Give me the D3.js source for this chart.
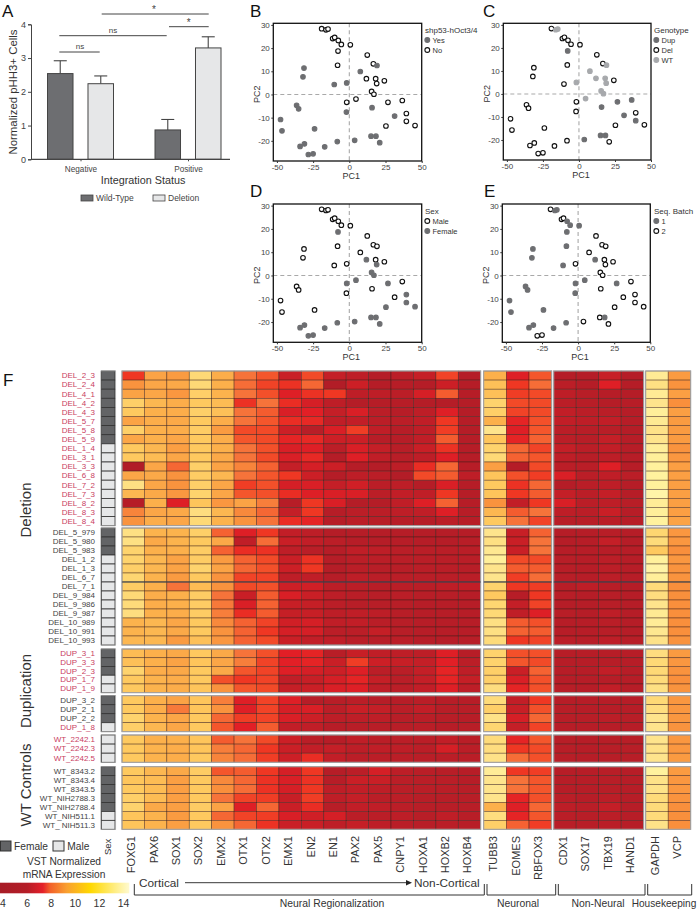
<!DOCTYPE html>
<html>
<head>
<meta charset="utf-8">
<title>Figure</title>
<script src="https://cdn.jsdelivr.net/npm/d3@7"></script>
<style>
  html, body { margin: 0; background: #fff; }
  svg { display: block; font-family: "Liberation Sans", Arial, sans-serif; }
  text { fill: #333; }
</style>
</head>
<body>
<svg id="fig" width="699" height="915"></svg>
<script>
// panel A
const integration = ["Negative", "Positive"]
const genotypesA = ["Wild-Type", "Deletion"]
const barMeans = [[2.54, 2.24], [0.87, 3.3]]
const barErrors = [[0.38, 0.23], [0.31, 0.33]]

// panels B-E, same 50 samples in every panel
const pc1 = [-19.1, -16.1, -14.7, -11.5, -10.1, -7.6, -5.5, 0.7, -7.8, -8.1, 12.4, 16.6, 19.1, 7.6, -31.3, -32, -10.4, -1.8, 11.8, 18.2, 18.9, 24.2, 15.4, 17, 4.6, -1.8, 26.7, 36.6, -2, 15.7, 39.4, 31.3, 39.4, 45.4, 25.3, -36.4, -35, -47.5, -46.5, -24, 15, 18.4, 3.7, 21, -8.3, -17, -31, -34, -28.3, -25]
const pc2 = [28.4, 27.9, 28.2, 24.1, 24.6, 23.3, 21.6, 21.4, 18.7, 12.6, 17, 13.2, 12.5, 9.9, 11.4, 7.6, 4.3, 5, 6.8, 6.8, 4.7, 5.9, 1.3, 0.1, -2, -3.4, -3.4, -2.6, -7.6, -5.7, -8.2, -9.3, -11.6, -13.4, -13.6, -4.7, -6.2, -10.8, -15.7, -14.8, -18, -18, -19.8, -20.8, -20.3, -22.6, -21.3, -22.4, -25.9, -25.6]
const shp53 = "NNNNNNNNNNNNYYYYYYNNNNNNNNNNYYNYNNNYYYYYYYYYYYYYYY".split("")
const genotype = "DWWDDDDDUDDDWWDDDWWWWDWWWDUUDUDUUDDDDDDDUUUDDDDDDD".split("")
const sex = "MMMMMMMMFMMMMMMMMMFMFMFFFFFMMMFMFFFMMMMMFFFFFFFFFF".split("")
const batch = "21122111112222111212222211121222222111112122111122".split("")

// panel F
const genesNeural = ["FOXG1", "PAX6", "SOX1", "SOX2", "EMX2", "OTX1", "OTX2", "EMX1", "EN2", "EN1", "PAX2", "PAX5", "CNPY1", "HOXA1", "HOXB2", "HOXB4"]
const genesNeuronal = ["TUBB3", "EOMES", "RBFOX3"]
const genesNonNeural = ["CDX1", "SOX17", "TBX19", "HAND1"]
const genesHouse = ["GAPDH", "VCP"]

const samplesDelA = ["DEL_2_3", "DEL_2_4", "DEL_4_1", "DEL_4_2", "DEL_4_3", "DEL_5_7", "DEL_5_8", "DEL_5_9", "DEL_1_4", "DEL_3_1", "DEL_3_3", "DEL_6_8", "DEL_7_2", "DEL_7_3", "DEL_8_2", "DEL_8_3", "DEL_8_4"]
const sexDelA = "FFFFFFFFMMMMMMMMM"
const exprDelA = [
  [8, 10, 9.8, 11.5, 10.3, 9, 8.5, 6.8, 8.3, 6.5, 6.2, 5.5, 6, 6.6, 8.2, 5.5, 10.4, 7.4, 8.5, 5.5, 5.5, 6.7, 5.5, 12.5, 9.8],
  [9.6, 10.1, 10.2, 11.5, 10.4, 8.9, 8.2, 7.9, 8.8, 5.3, 7, 5.5, 5.7, 5.5, 7, 5.5, 10.8, 8, 8.9, 6, 5.5, 7.4, 5.5, 11.8, 9.6],
  [10, 10.1, 9.7, 11.2, 10.5, 9, 8.4, 7.4, 7.9, 8, 6.2, 6.2, 6, 7.2, 8.6, 5.6, 10.8, 8.1, 8.3, 6.2, 5.8, 5.7, 5.5, 12.5, 9.9],
  [11.2, 10.6, 10.3, 11, 10.7, 7.9, 9, 7.8, 7.2, 6.2, 5.5, 5.6, 5.7, 5.5, 5.5, 5.5, 11.3, 8.3, 8.3, 6, 5.8, 5.6, 5.7, 12, 9.5],
  [11, 10.4, 10.3, 11.2, 10.8, 9, 8.6, 7.3, 7.5, 6.5, 7.3, 6, 5.7, 6.2, 7.4, 5.5, 11.2, 8.2, 8.3, 6.4, 6, 5.9, 5.6, 12.8, 9.9],
  [10, 10.3, 10.2, 11, 10.3, 9, 8.5, 7.8, 7.7, 6.3, 6.4, 6, 6, 6.3, 8, 5.6, 10.4, 7.6, 8.4, 6.4, 6.2, 6.4, 5.7, 12.4, 9.8],
  [11.2, 10.4, 10.3, 11.1, 9.8, 8.3, 8.3, 7, 5.8, 7.3, 8.1, 6.3, 5.7, 6.2, 8.1, 5.5, 12, 7.4, 8.5, 6, 5.8, 5.8, 5.5, 11.9, 9.8],
  [10.1, 10.4, 10.1, 11, 10.3, 8.5, 8.3, 7.6, 7.7, 7, 7, 5.7, 5.7, 6.3, 8.6, 5.6, 10.9, 7.6, 8.7, 6, 5.8, 6.5, 5.7, 12, 9.8],
  [11, 10.6, 9.9, 11, 10.4, 9, 8.4, 7.3, 7.4, 6, 7.3, 6.5, 5.8, 6.8, 7.9, 5.6, 11.3, 8.8, 8.2, 6.5, 6, 6.4, 5.7, 12.7, 9.6],
  [11, 10.7, 10.1, 11, 10.2, 9, 8.3, 7.3, 7.7, 5.5, 7.4, 6.3, 5.8, 6.2, 7.4, 5.6, 11.5, 8.7, 8.5, 6.2, 5.8, 6.1, 5.7, 12.8, 9.7],
  [5.2, 10.1, 8.8, 11.2, 10, 9.3, 8.7, 6.5, 7.2, 7, 5.6, 5.5, 6.1, 7.8, 8.8, 5.7, 9.9, 5.5, 8.3, 6, 5.9, 7.4, 5.7, 12.9, 9.9],
  [10.1, 10.2, 9.6, 11.1, 10.6, 9, 8.5, 8, 7, 5.5, 6.2, 6, 5.4, 8.3, 8.6, 6.2, 10.9, 8.4, 8.1, 7.3, 6, 6.3, 6, 13, 9.9],
  [11.8, 10.1, 9.6, 11.2, 10.1, 8.1, 8.4, 7.2, 7.3, 6.5, 7.1, 6, 6.1, 5.5, 7.3, 5.6, 11, 7.9, 8.8, 5.5, 5.9, 6.2, 5.6, 12.9, 9.9],
  [10.6, 10.2, 9.7, 11.3, 10.1, 8.5, 8.4, 7.8, 7.4, 7.3, 7.3, 6, 6.4, 6.3, 8, 5.6, 10.9, 8, 8.6, 6.5, 6, 6.5, 5.6, 13.3, 9.9],
  [5.6, 10.4, 7.4, 10.9, 9.7, 10, 9.2, 5.7, 8, 7.3, 5.5, 5.5, 6.3, 7.4, 8.7, 5.6, 9.6, 6.4, 8, 7.3, 6, 6.2, 5.8, 12.6, 9.9],
  [9.3, 10.1, 10.2, 11.7, 10.6, 9.4, 8.8, 6.5, 8, 5.6, 6, 6, 6.2, 6.3, 7.4, 5.7, 10.6, 8.6, 9, 6.2, 6, 6.9, 5.7, 12.8, 9.9],
  [9.6, 10.3, 10.1, 11.5, 10.5, 9.6, 9, 7.8, 7.6, 5.6, 6, 5.8, 5.7, 5.6, 6, 5.7, 11, 9, 8.2, 5.8, 5.8, 5.9, 5.7, 13, 10]
]

const samplesDelB = ["DEL_5_979", "DEL_5_980", "DEL_5_983", "DEL_1_2", "DEL_1_3", "DEL_6_7", "DEL_7_1", "DEL_9_984", "DEL_9_986", "DEL_9_987", "DEL_10_989", "DEL_10_991", "DEL_10_993"]
const sexDelB = "FFFMMMMMMMMMM"
const exprDelB = [
  [11.8, 10.5, 10.5, 11.2, 8.7, 7.4, 8, 6.4, 6.1, 5.5, 5.6, 5.6, 5.6, 5.6, 5.6, 5.6, 12, 6.7, 8.7, 5.6, 5.6, 5.8, 5.6, 11.4, 9.7],
  [11.8, 10.2, 10.5, 11, 10.2, 6.3, 8.9, 6.8, 6.4, 6, 5.7, 5.6, 5.7, 5.6, 5.6, 5.8, 11.8, 6.8, 9, 5.6, 5.7, 6.5, 5.6, 11.6, 9.7],
  [11.3, 10.4, 10.4, 11.1, 8.7, 7.8, 7.9, 6.2, 5.9, 5.6, 6.3, 6.2, 5.9, 5.9, 5.9, 5.9, 12.3, 6.8, 9, 5.7, 5.7, 5.7, 5.7, 11, 9.5],
  [11.3, 10.6, 10, 11.1, 9.8, 8.7, 8.3, 6.8, 7.9, 5.6, 6, 6, 5.9, 5.9, 5.9, 5.9, 12.8, 8.3, 8.3, 5.8, 5.7, 6, 5.7, 12.9, 9.7],
  [11.2, 10.6, 10, 11.3, 10, 8.8, 8.4, 7, 8, 5.5, 5.9, 5.8, 5.8, 5.9, 5.9, 5.8, 12, 8.6, 8.6, 5.8, 5.7, 6, 5.7, 13.2, 9.6],
  [11.4, 10.5, 9.8, 11, 9.6, 8.2, 8.2, 6.2, 6.3, 5.6, 6.2, 5.9, 5.9, 5.9, 5.9, 5.9, 12, 8.1, 8.9, 5.8, 5.7, 6, 5.7, 12.8, 9.6],
  [11.1, 10.4, 9, 10.7, 9.6, 8.3, 8.4, 7, 7.1, 6, 6, 5.8, 5.9, 5.9, 6.2, 6.4, 11.3, 8, 8.1, 5.8, 6.2, 5.8, 5.6, 11.6, 9.5],
  [11.5, 10.3, 10.4, 11.1, 9, 6.8, 8.6, 7.3, 6.8, 6.1, 5.9, 5.8, 5.9, 5.8, 5.8, 5.7, 11, 5.7, 8, 5.8, 5.6, 5.8, 5.6, 11.7, 9.5],
  [11.6, 10.3, 10.4, 11.1, 9.1, 7.3, 8.7, 6.7, 6.6, 6, 5.8, 5.8, 5.8, 5.7, 5.7, 5.7, 11.4, 6.5, 8.2, 5.6, 5.6, 5.8, 5.6, 12, 9.5],
  [11.7, 10.4, 10.3, 11.1, 9.2, 7.8, 8.6, 6.6, 6.7, 6.1, 6.3, 6.1, 5.8, 5.7, 5.7, 5.7, 11.5, 6.3, 7.4, 5.8, 5.6, 6.2, 5.6, 12.4, 9.5],
  [10.5, 10.6, 10.1, 11, 9.4, 8.7, 8.2, 7.1, 7.2, 6.3, 6.4, 5.9, 5.8, 5.7, 5.7, 5.7, 11.8, 8.6, 8.4, 5.7, 5.7, 5.9, 5.6, 12.6, 9.5],
  [10.5, 10.6, 10.2, 11, 9.6, 8.7, 8, 7.2, 7.2, 6, 6, 6.6, 5.8, 5.7, 5.7, 5.7, 11.8, 8.7, 8.6, 5.7, 5.7, 5.8, 5.6, 12.2, 9.5],
  [10.6, 10.6, 9.8, 10.8, 9.7, 8.7, 8.3, 6.9, 6.4, 6.3, 5.9, 5.8, 6, 5.7, 5.7, 5.8, 11.6, 8, 8.2, 6, 5.8, 6.2, 5.8, 11.9, 9.6]
]

const samplesDupA = ["DUP_3_1", "DUP_3_3", "DUP_2_3", "DUP_1_7", "DUP_1_9"]
const sexDupA = "FFFMM"
const exprDupA = [
  [10.7, 10.4, 10.2, 11, 10.2, 9, 8.4, 7.5, 7.6, 5.8, 6.7, 6.3, 6.2, 6.1, 7.4, 5.7, 11.3, 8.4, 8.4, 5.7, 5.7, 5.7, 5.7, 11.7, 9.8],
  [10.8, 10.4, 10, 10.9, 10.1, 9.2, 8.2, 7.5, 7.6, 6.8, 8.1, 7, 6.7, 6.5, 7.5, 6, 11.3, 8.5, 8.3, 5.7, 5.7, 5.7, 5.7, 11.5, 9.7],
  [11.3, 10.3, 10.2, 11, 10.2, 8.5, 8.2, 7.4, 7.2, 7, 7.4, 6, 5.9, 6.5, 7.6, 6.2, 11.2, 6.9, 8.7, 5.7, 5.7, 6.4, 5.7, 11.5, 9.6],
  [11, 10.5, 10.3, 11, 8.4, 8, 8.2, 6.3, 6.7, 7.2, 7.6, 6.6, 5.9, 6.5, 7.6, 6.6, 11.2, 7.3, 8.4, 5.7, 5.7, 5.7, 5.7, 11.6, 9.5],
  [11, 10.5, 10.3, 10.9, 9.6, 8.5, 8.3, 6.6, 6.9, 7.3, 7.4, 6.2, 6, 6.4, 7.4, 6.1, 11.7, 7.6, 8.4, 5.8, 5.7, 6.4, 5.7, 11.8, 9.6]
]

const samplesDupB = ["DUP_3_2", "DUP_2_1", "DUP_2_2", "DUP_1_8"]
const sexDupB = "FFFM"
const exprDupB = [
  [11, 10.4, 10, 10.9, 9.2, 7.4, 8.2, 7.4, 5.7, 5.8, 6, 5.7, 5.7, 5.9, 5.7, 5.7, 11.6, 6.4, 8, 5.7, 5.7, 5.7, 5.7, 11.5, 9.7],
  [11, 10.3, 9.1, 10.9, 9.6, 7.4, 8.2, 7.2, 7.3, 6, 6.8, 6.5, 5.9, 6.4, 5.8, 5.8, 11.2, 6.7, 8.4, 5.8, 5.7, 5.7, 5.7, 11.7, 9.7],
  [11.3, 10.5, 10.1, 11, 8.8, 8.1, 8.2, 7.3, 7, 6.1, 6.2, 6.2, 5.8, 5.9, 5.8, 5.7, 11.9, 7.2, 8.8, 5.8, 5.8, 6, 5.8, 12, 9.7],
  [11.2, 10.6, 10.1, 11, 8.5, 7.5, 8.6, 6.4, 6.3, 5.7, 5.8, 5.8, 5.8, 5.9, 5.7, 5.8, 11.4, 6.5, 8.2, 5.7, 5.7, 5.7, 5.7, 12, 9.6]
]

const samplesWtA = ["WT_2242.1", "WT_2242.3", "WT_2242.5"]
const sexWtA = "MMM"
const exprWtA = [
  [11, 10.4, 10.4, 10.9, 8.6, 9, 8.3, 7, 5.9, 5.7, 6.3, 6, 6, 6, 6.4, 5.9, 11.6, 7.6, 8.5, 5.8, 5.7, 5.8, 5.8, 12, 9.7],
  [11, 10.5, 10.3, 10.9, 9.2, 8.8, 8, 6.9, 6.4, 6.5, 6.1, 6.3, 6.2, 6, 7.2, 6, 11.7, 8, 8.3, 5.8, 5.7, 5.8, 5.8, 11.9, 9.7],
  [11, 10.5, 10.3, 11, 9.3, 8.9, 8.1, 7, 7.8, 6.4, 6, 6, 6, 5.9, 6, 5.9, 11.9, 8.9, 8.4, 5.8, 5.7, 5.8, 5.8, 12, 9.8]
]

const samplesWtB = ["WT_8343.2", "WT_8343.4", "WT_8343.5", "WT_NIH2788.3", "WT_NIH2788.4", "WT_NIH511.1", "WT_ NIH511.3"]
const sexWtB = "FFFFFMM"
const exprWtB = [
  [11, 10.6, 10.2, 11.1, 8.5, 8.6, 8, 7.2, 8, 5.6, 6, 7.2, 6.1, 5.9, 5.8, 5.7, 12.6, 8, 8.1, 5.7, 5.7, 5.8, 5.7, 13, 9.8],
  [10.9, 10.7, 9.9, 11, 9.4, 8.8, 7.9, 7.3, 7.9, 5.7, 6.9, 6.8, 6, 5.9, 5.9, 5.7, 12, 9, 8.5, 5.7, 5.7, 5.8, 5.7, 11.9, 9.7],
  [11, 10.7, 9.9, 11, 9.5, 8.9, 7.9, 7.2, 8, 6.2, 6.4, 6.2, 5.9, 5.9, 5.9, 5.8, 12, 9, 8.5, 5.7, 5.7, 5.8, 5.7, 11.9, 9.7],
  [11.2, 10.7, 9.9, 11, 9, 8.2, 8.1, 6.7, 8.1, 6.2, 6.5, 5.9, 6, 5.8, 5.8, 5.8, 12, 7.6, 8.4, 5.9, 5.7, 6, 5.7, 11.6, 9.6],
  [11.3, 10.2, 9.9, 11.1, 10, 7.4, 8.8, 6.8, 7.8, 5.8, 6.4, 6.3, 6, 5.8, 5.8, 5.8, 10.4, 7.4, 8.8, 6.1, 5.9, 6.5, 5.7, 11.6, 9.5],
  [10.9, 10.5, 9.8, 11, 8.8, 8.2, 8.1, 7.3, 7.1, 7.2, 6, 6, 6.1, 5.8, 6.3, 5.8, 11.7, 7.6, 8.5, 5.9, 5.8, 6, 5.7, 11.6, 9.5],
  [10.9, 10.5, 9.9, 11, 9.6, 8.8, 7.9, 6.9, 6.8, 6.2, 6.6, 6.2, 5.9, 5.8, 5.9, 5.8, 11.2, 8.7, 8.1, 5.8, 5.8, 5.9, 5.7, 11.9, 9.5]
]

const markedSamples = [...samplesDelA, ...samplesDupA, "DUP_1_8", ...samplesWtA]

// colours
const exprLevels = [5, 6, 7, 7.5, 8, 8.5, 9, 9.5, 10, 10.5, 11, 11.5, 12, 13, 14]
const exprColors = ["#ae1c27", "#bb1e27", "#cc1f26", "#e21f26", "#ef3723", "#f4562c", "#f6733a", "#f98f3c", "#fba345", "#fcb34d", "#fec95f", "#fed976", "#fee48c", "#fff29e", "#fff8c0"]
const barLevels = [4, 6, 7.3, 7.9, 9.3, 11.25, 14.5]
const barColors = ["#a81c26", "#b51d27", "#e4202a", "#f2602a", "#f9a030", "#ffd800", "#fffad0"]
const barTicks = [4, 6, 8, 10, 12, 14]

const DARK = "#6d6e71", LIGHT = "#e6e7e8", PALE = "#a7a9ac"

const svg = d3.select("#fig")
const cellColor = d3.scaleLinear().domain(exprLevels).range(exprColors).clamp(true)

function label(g, str, x, y, size, opts = {}) {
  const t = g.append("text").attr("x", x).attr("y", y).attr("font-size", size).text(str)
    .attr("text-anchor", opts.anchor || "start")
    .style("fill", opts.fill || "#333")
  if (opts.rotate) t.attr("transform", `rotate(-90 ${x} ${y})`)
  return t
}

// panel letters
;[["A", 2, 17], ["B", 250, 17], ["C", 483, 17], ["D", 250, 197], ["E", 484, 197], ["F", 3, 386]].forEach(d => {
  label(svg, d[0], d[1], d[2], 17, { fill: "#111" })
})

// ---- A: bars
function drawBars() {
  const g = svg.append("g")
  const y = d3.scaleLinear().domain([0, 4]).range([159.3, 24.3])
  const x = d3.scalePoint().domain(integration).range([80.5, 188])
  const inner = d3.scaleBand().domain(genotypesA).range([-33, 33]).paddingInner(0.37)
  const fills = d3.scaleOrdinal().domain(genotypesA).range([DARK, LIGHT])

  integration.forEach((cat, i) => {
    genotypesA.forEach((gt, j) => {
      const left = x(cat) + inner(gt)
      const mid = left + inner.bandwidth() / 2
      const top = y(barMeans[i][j])
      const errTop = y(barMeans[i][j] + barErrors[i][j])
      g.append("line").attr("x1", mid).attr("x2", mid).attr("y1", top).attr("y2", errTop)
        .attr("stroke", "#555").attr("stroke-width", 1.2)
      g.append("line").attr("x1", mid - 6.5).attr("x2", mid + 6.5).attr("y1", errTop).attr("y2", errTop)
        .attr("stroke", "#444").attr("stroke-width", 1.1)
      g.append("rect").attr("x", left).attr("y", top)
        .attr("width", inner.bandwidth()).attr("height", y(0) - top)
        .attr("fill", fills(gt)).attr("stroke", "#444").attr("stroke-width", 1)
    })
  })

  const yAxis = g.append("g").attr("transform", "translate(31,0)")
    .call(d3.axisLeft(y).ticks(4).tickSize(3).tickPadding(2))
  yAxis.selectAll("text").attr("font-size", 9).style("fill", "#444").attr("font-family", "inherit")
  yAxis.selectAll("path,line").attr("stroke", "#444")

  const xAxis = g.append("g").attr("transform", "translate(0,159.3)")
    .call(d3.axisBottom(x).tickSize(2).tickPadding(4.5))
  xAxis.select("path").attr("d", "M31,0H230").attr("stroke", "#444").attr("stroke-width", 1.2)
  xAxis.selectAll("line").attr("stroke", "#444")
  xAxis.selectAll("text").attr("font-size", 8.2).style("fill", "#444").attr("font-family", "inherit")

  label(g, "Normalized pHH3+ Cells", 16.5, 92, 11.4, { anchor: "middle", rotate: true })
  label(g, "Integration Status", 143, 184, 10.8, { anchor: "middle" })

  const bracket = (x1, x2, yy, str, tx, ty, size) => {
    g.append("line").attr("x1", x1).attr("x2", x2).attr("y1", yy).attr("y2", yy)
      .attr("stroke", "#444").attr("stroke-width", 1)
    label(g, str, tx, ty, size, { anchor: "middle", fill: "#444" })
  }
  bracket(101.7, 208.7, 14, "*", 154, 13, 10)
  bracket(169, 208.7, 26.7, "*", 188.7, 25.5, 10)
  bracket(59.3, 166.7, 35.7, "ns", 113, 33, 8)
  bracket(59.3, 99.7, 52, "ns", 80, 49, 8)

  genotypesA.forEach((gt, i) => {
    const lx = [81, 153][i]
    g.append("rect").attr("x", lx).attr("y", 195).attr("width", 12).attr("height", 6)
      .attr("fill", fills(gt)).attr("stroke", "#444").attr("stroke-width", 0.8)
    label(g, gt, lx + 15, 201, 8.5, { fill: "#444" })
  })
}
drawBars()

// ---- B-E: PCA scatter
function drawPca(frame, values, styles, legendTitle, legendX, legendY) {
  const g = svg.append("g")
  const x = d3.scaleLinear().domain([-52.5, 50]).range([frame.left, frame.right])
  const y = d3.scaleLinear().domain([-28.7, 30.7]).range([frame.bottom, frame.top])

  g.append("line").attr("x1", x(0)).attr("x2", x(0)).attr("y1", frame.top).attr("y2", frame.bottom)
    .attr("stroke", "#a9a9a9").attr("stroke-width", 1.1).attr("stroke-dasharray", "4 3")
  g.append("line").attr("x1", frame.left).attr("x2", frame.right).attr("y1", y(0)).attr("y2", y(0))
    .attr("stroke", "#a9a9a9").attr("stroke-width", 1.1).attr("stroke-dasharray", "4 3")

  g.selectAll("circle.pt").data(pc1).join("circle").attr("class", "pt")
    .attr("cx", d => x(d))
    .attr("cy", (d, i) => y(pc2[i]))
    .attr("r", 2.3)
    .attr("fill", (d, i) => styles[values[i]].fill)
    .attr("stroke", (d, i) => styles[values[i]].stroke)
    .attr("stroke-width", 1.1)

  g.append("rect").attr("x", frame.left).attr("y", frame.top)
    .attr("width", frame.right - frame.left).attr("height", frame.bottom - frame.top)
    .attr("fill", "none").attr("stroke", "#111").attr("stroke-width", 1.3)

  const xAxis = g.append("g").attr("transform", `translate(0,${frame.bottom})`)
    .call(d3.axisBottom(x).tickValues([-50, -25, 0, 25, 50]).tickFormat(d => d).tickSize(2).tickPadding(1.5))
  const yAxis = g.append("g").attr("transform", `translate(${frame.left},0)`)
    .call(d3.axisLeft(y).tickValues([-20, -10, 0, 10, 20, 30]).tickFormat(d => d).tickSize(2).tickPadding(1.5))
  ;[xAxis, yAxis].forEach(a => {
    a.select("path").remove()
    a.selectAll("line").attr("stroke", "#333")
    a.selectAll("text").attr("font-size", 8).style("fill", "#444").attr("font-family", "inherit")
  })

  label(g, "PC1", x(0) + 2, frame.bottom + 18, 9, { anchor: "middle" })
  label(g, "PC2", frame.left - 13.5, (frame.top + frame.bottom) / 2 + 2, 9, { anchor: "middle", rotate: true })

  label(g, legendTitle, legendX, legendY, 8)
  Object.keys(styles).forEach((k, i) => {
    const cy = legendY + 7 + i * 10
    g.append("circle").attr("cx", legendX + 2.3).attr("cy", cy).attr("r", 2.4)
      .attr("fill", styles[k].fill).attr("stroke", styles[k].stroke).attr("stroke-width", 1.1)
    label(g, styles[k].name, legendX + 7.5, cy + 2.7, 7.5)
  })
}

const filled = name => ({ name, fill: DARK, stroke: DARK })
const hollow = name => ({ name, fill: "#fff", stroke: "#111" })

drawPca({ left: 273.3, right: 421.7, top: 23.3, bottom: 161 }, shp53,
  { Y: filled("Yes"), N: hollow("No") }, "shp53-hOct3/4", 425, 33)
drawPca({ left: 503.3, right: 651, top: 23.3, bottom: 160 }, genotype,
  { U: filled("Dup"), D: hollow("Del"), W: { name: "WT", fill: PALE, stroke: PALE } }, "Genotype", 654, 33)
drawPca({ left: 273.3, right: 421.7, top: 204, bottom: 342.3 }, sex,
  { M: hollow("Male"), F: filled("Female") }, "Sex", 425, 214)
drawPca({ left: 502.3, right: 650.3, top: 204, bottom: 342.3 }, batch,
  { 1: filled("1"), 2: hollow("2") }, "Seq. Batch", 654, 214)

// ---- F: heatmap
const blocks = [
  { genes: genesNeural, x0: 122, x1: 480.7 },
  { genes: genesNeuronal, x0: 483.7, x1: 551.7 },
  { genes: genesNonNeural, x0: 553.7, x1: 643.7 },
  { genes: genesHouse, x0: 645.7, x1: 690.7 }
]
const sampleGroups = [
  { names: samplesDelA, sex: sexDelA, expr: exprDelA, y0: 371, y1: 525.7 },
  { names: samplesDelB, sex: sexDelB, expr: exprDelB, y0: 528, y1: 645 },
  { names: samplesDupA, sex: sexDupA, expr: exprDupA, y0: 649, y1: 692.7 },
  { names: samplesDupB, sex: sexDupB, expr: exprDupB, y0: 695.7, y1: 731.7 },
  { names: samplesWtA, sex: sexWtA, expr: exprWtA, y0: 735, y1: 762.3 },
  { names: samplesWtB, sex: sexWtB, expr: exprWtB, y0: 766.7, y1: 829.3 }
]

function drawHeatmap() {
  const g = svg.append("g")
  let offset = 0
  const cols = blocks.map(b => {
    const band = d3.scaleBand().domain(b.genes).range([b.x0, b.x1])
    const out = { band, genes: b.genes, start: offset, x0: b.x0, x1: b.x1 }
    offset += b.genes.length
    return out
  })

  sampleGroups.forEach(grp => {
    const y = d3.scaleBand().domain(grp.names).range([grp.y0, grp.y1])

    cols.forEach(col => {
      col.genes.forEach((gene, c) => {
        g.selectAll(null).data(grp.names).join("rect")
          .attr("x", col.band(gene))
          .attr("y", d => y(d))
          .attr("width", col.band.bandwidth())
          .attr("height", y.bandwidth())
          .attr("fill", (d, r) => cellColor(grp.expr[r][col.start + c]))
          .attr("stroke", "#3a1c18").attr("stroke-opacity", 0.7).attr("stroke-width", 0.6)
      })
      g.append("rect").attr("x", col.x0).attr("y", grp.y0)
        .attr("width", col.x1 - col.x0).attr("height", grp.y1 - grp.y0)
        .attr("fill", "none").attr("stroke", "#a6a6a6").attr("stroke-width", 1.1)
    })

    // sex strip
    g.selectAll(null).data(grp.names).join("rect")
      .attr("x", 101.5).attr("y", d => y(d))
      .attr("width", 13.5).attr("height", y.bandwidth())
      .attr("fill", (d, r) => grp.sex[r] === "F" ? "#636466" : LIGHT)
      .attr("stroke", "#333").attr("stroke-width", 0.8)
    g.append("rect").attr("x", 100.8).attr("y", grp.y0)
      .attr("width", 14.9).attr("height", grp.y1 - grp.y0)
      .attr("fill", "none").attr("stroke", "#a6a6a6").attr("stroke-width", 0.7)

    g.selectAll(null).data(grp.names).join("text")
      .attr("x", 95).attr("y", d => y(d) + y.bandwidth() / 2 + 2.8)
      .attr("text-anchor", "end").attr("font-size", 8)
      .style("fill", d => markedSamples.includes(d) ? "#c9405f" : "#444")
      .text(d => d)
  })

  // stray rule across the DEL_7_1 row
  const delB = d3.scaleBand().domain(samplesDelB).range([528, 645])
  cols.forEach(col => {
    g.append("line").attr("x1", col.x0).attr("x2", col.x1)
      .attr("y1", delB("DEL_7_1")).attr("y2", delB("DEL_7_1"))
      .attr("stroke", "#3c4a5a").attr("stroke-width", 1)
  })

  cols.forEach(col => {
    col.genes.forEach(gene => {
      label(g, gene, col.band(gene) + col.band.bandwidth() / 2 + 2, 836, 11, { anchor: "end", rotate: true })
    })
  })

  label(g, "Sex", 110.7, 855, 9.5, { rotate: true })
  label(g, "Deletion", 31, 510, 15, { anchor: "middle", rotate: true })
  label(g, "Duplication", 31, 691, 15, { anchor: "middle", rotate: true })
  label(g, "WT Controls", 31, 785, 15, { anchor: "middle", rotate: true })

  g.append("rect").attr("x", 0.5).attr("y", 841).attr("width", 10.5).attr("height", 10)
    .attr("fill", "#636466").attr("stroke", "#333")
  label(g, "Female", 14, 850, 10.2)
  g.append("rect").attr("x", 53).attr("y", 841).attr("width", 11).attr("height", 10)
    .attr("fill", LIGHT).attr("stroke", "#333")
  label(g, "Male", 67.3, 850, 10.2)
  label(g, "VST Normalized", 64, 865, 10.2, { anchor: "middle" })
  label(g, "mRNA Expression", 64, 878.3, 10.2, { anchor: "middle" })

  // colour bar
  const barX = d3.scaleLinear().domain([4, 14]).range([3, 123.5])
  const grad = svg.append("defs").append("linearGradient").attr("id", "exprBar")
  barLevels.forEach((lv, i) => {
    grad.append("stop").attr("offset", (barX(lv) / 129.3 * 100) + "%").attr("stop-color", barColors[i])
  })
  g.append("rect").attr("x", 0).attr("y", 882.7).attr("width", 129.3).attr("height", 10.6)
    .attr("fill", "url(#exprBar)")
  barTicks.forEach(t => label(g, t, barX(t), 907, 10.5, { anchor: "middle" }))

  // cortical arrow
  label(g, "Cortical", 139, 887.3, 11.8)
  label(g, "Non-Cortical", 414, 887.3, 11.8)
  g.append("line").attr("x1", 185).attr("x2", 407).attr("y1", 882.7).attr("y2", 882.7)
    .attr("stroke", "#222").attr("stroke-width", 0.9)
  g.append("path").attr("d", "M412,882.7L406,880V885.4Z").attr("fill", "#222")

  // group brackets
  const groups = [[134.3, 484.3], [487, 555.7], [558.3, 645], [647.7, 691.7]]
  groups.forEach(b => {
    g.append("path").attr("d", `M${b[0]},884V895H${b[1]}V884`)
      .attr("fill", "none").attr("stroke", "#333").attr("stroke-width", 1)
  })
  label(g, "Neural Regionalization", 332, 907, 10.4, { anchor: "middle" })
  label(g, "Neuronal", 518, 907, 10.4, { anchor: "middle" })
  label(g, "Non-Neural", 598, 907, 10.4, { anchor: "middle" })
  label(g, "Housekeeping", 664, 907, 10.1, { anchor: "middle" })
}
drawHeatmap()
</script>
</body>
</html>
